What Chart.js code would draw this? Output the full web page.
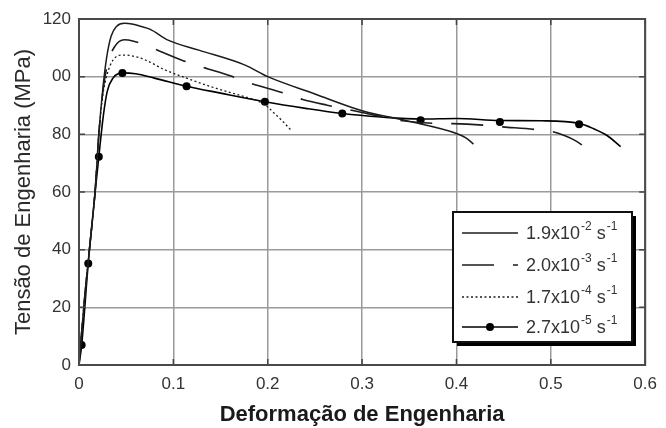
<!DOCTYPE html>
<html>
<head>
<meta charset="utf-8">
<script src="https://cdn.jsdelivr.net/npm/chart.js@4.4.1/dist/chart.umd.min.js"></script>
<style>
  body { margin: 0; background: #fff; }
</style>
</head>
<body>
<canvas id="myChart" width="666" height="428"></canvas>
<script>
// strain / stress, one pair of arrays per strain rate
const strainA = [0, 0.005, 0.011, 0.017, 0.021, 0.025, 0.029, 0.034, 0.040, 0.048, 0.056, 0.065, 0.075, 0.095, 0.127, 0.176, 0.2, 0.25, 0.3, 0.35, 0.4, 0.41, 0.418];
const stressA = [0, 20, 40, 60, 80, 95, 106, 114, 117.5, 118.5, 118.3, 117.5, 116.5, 112.6, 109.2, 104, 100, 94, 88.2, 84.5, 80.3, 78.8, 76.6];

const strainB = [0, 0.005, 0.011, 0.017, 0.021, 0.025, 0.03, 0.038, 0.048, 0.057, 0.077, 0.109, 0.13, 0.161, 0.182, 0.216, 0.237, 0.263, 0.3, 0.343, 0.376, 0.396, 0.428, 0.449, 0.483, 0.502, 0.515, 0.525, 0.535];
const stressB = [0, 20, 40, 60, 80, 94, 104, 110.5, 112.8, 112.4, 110, 105.7, 103.4, 100.2, 97.7, 94.4, 92.1, 90.1, 87.6, 84.7, 83.8, 83.7, 83.2, 82.6, 81.7, 80.9, 79.5, 78, 75.9];

const strainC = [0, 0.005, 0.011, 0.017, 0.021, 0.025, 0.03, 0.036, 0.045, 0.055, 0.071, 0.09, 0.113, 0.14, 0.176, 0.19, 0.2, 0.207, 0.215, 0.224];
const stressC = [0, 20, 40, 60, 80, 93, 101, 105.7, 107.5, 107.3, 105.7, 102.5, 99.6, 96.5, 93, 91.5, 89.5, 87.3, 84.8, 81.7];

const strainD = [0, 0.0028, 0.0098, 0.021, 0.026, 0.03, 0.036, 0.046, 0.06, 0.08, 0.114, 0.15, 0.197, 0.24, 0.279, 0.32, 0.362, 0.40, 0.446, 0.49, 0.53, 0.545, 0.56, 0.574];
const stressD = [0, 6.9, 35.2, 72.2, 87, 95, 99.5, 101.3, 101, 99.5, 96.7, 94.3, 91.3, 89, 87.2, 86, 85.3, 85.5, 84.8, 84.7, 83.8, 82, 79.5, 75.7];

// the filled circles on the slowest curve
const markStrain = [0.0028, 0.0098, 0.021, 0.046, 0.114, 0.197, 0.279, 0.362, 0.446, 0.53];
const markStress = [6.9, 35.2, 72.2, 101.3, 96.7, 91.3, 87.2, 84.9, 84.3, 83.5];

const rateMantissa = ['1.9x10', '2.0x10', '1.7x10', '2.7x10'];
const rateExponent = ['-2', '-3', '-4', '-5'];

const xTickLabels = ['0', '0.1', '0.2', '0.3', '0.4', '0.5', '0.6'];
const yTickLabels = ['0', '20', '40', '60', '80', '00', '120'];

const FONT = "'Liberation Sans', Arial, sans-serif";

function pts(xs, ys) {
  return xs.map((x, i) => ({ x: x, y: ys[i] }));
}

// frame, inward ticks and the boxed legend
const framePlugin = {
  id: 'frame',
  afterDraw(chart) {
    const ctx = chart.ctx;
    const a = chart.chartArea;
    const xs = chart.scales.x, ys = chart.scales.y;
    ctx.save();
    ctx.strokeStyle = '#444';
    ctx.lineWidth = 1.5;
    ctx.beginPath();
    xs.ticks.forEach(t => {
      let px = xs.getPixelForValue(t.value);
      ctx.moveTo(px, a.bottom); ctx.lineTo(px, a.bottom - 6);
      ctx.moveTo(px, a.top); ctx.lineTo(px, a.top + 6);
    });
    ys.ticks.forEach(t => {
      let py = ys.getPixelForValue(t.value);
      ctx.moveTo(a.left, py); ctx.lineTo(a.left + 6, py);
      ctx.moveTo(a.right, py); ctx.lineTo(a.right - 6, py);
    });
    ctx.stroke();
    ctx.lineWidth = 2;
    ctx.strokeStyle = '#4a4a4a';
    ctx.strokeRect(a.left, a.top, a.right - a.left, a.bottom - a.top);

    // legend box with drop shadow
    const bx = 453, by = 212, bw = 179, bh = 130;
    ctx.fillStyle = '#000';
    ctx.fillRect(bx + 4, by + 4, bw, bh);
    ctx.fillStyle = '#fff';
    ctx.fillRect(bx, by, bw, bh);
    ctx.lineWidth = 2;
    ctx.strokeStyle = '#111';
    ctx.strokeRect(bx, by, bw, bh);

    const rows = [233, 265, 297, 327];
    chart.data.datasets.slice(0, 4).forEach((ds, i) => {
      const y = rows[i];
      ctx.strokeStyle = ds.borderColor;
      ctx.lineWidth = ds.borderWidth;
      ctx.setLineDash(ds.borderDash || []);
      ctx.beginPath();
      ctx.moveTo(462, y); ctx.lineTo(518, y);
      ctx.stroke();
      ctx.setLineDash([]);
      if (i === 3) {
        ctx.fillStyle = '#000';
        ctx.beginPath();
        ctx.arc(490, y, 4, 0, Math.PI * 2);
        ctx.fill();
      }
      ctx.fillStyle = '#333';
      ctx.textBaseline = 'middle';
      ctx.textAlign = 'left';
      let x = 526;
      ctx.font = '18px ' + FONT;
      ctx.fillText(rateMantissa[i], x, y + 1);
      x += ctx.measureText(rateMantissa[i]).width + 1;
      ctx.font = '12px ' + FONT;
      ctx.fillText(rateExponent[i], x, y - 6);
      x += ctx.measureText(rateExponent[i]).width;
      ctx.font = '18px ' + FONT;
      ctx.fillText(' s', x, y + 1);
      x += ctx.measureText(' s').width + 1;
      ctx.font = '12px ' + FONT;
      ctx.fillText('-1', x, y - 6);
    });
    ctx.restore();
  }
};

const lineColor = '#1c1c1c';

new Chart(document.getElementById('myChart').getContext('2d'), {
  type: 'scatter',
  data: {
    datasets: [{
      data: pts(strainA, stressA),
      showLine: true, borderColor: lineColor, borderWidth: 1.5, pointRadius: 0, cubicInterpolationMode: 'monotone'
    }, {
      data: pts(strainB, stressB),
      showLine: true, borderColor: lineColor, borderWidth: 1.6, borderDash: [32, 19], borderDashOffset: -10,
      pointRadius: 0, cubicInterpolationMode: 'monotone'
    }, {
      data: pts(strainC, stressC),
      showLine: true, borderColor: lineColor, borderWidth: 1.3, borderDash: [2, 2.5], pointRadius: 0, cubicInterpolationMode: 'monotone'
    }, {
      data: pts(strainD, stressD),
      showLine: true, borderColor: '#000', borderWidth: 1.6, pointRadius: 0, cubicInterpolationMode: 'monotone'
    }, {
      data: pts(markStrain, markStress),
      showLine: false, pointRadius: 4, pointBackgroundColor: '#000', pointBorderColor: '#000', pointBorderWidth: 0
    }]
  },
  options: {
    responsive: false,
    animation: false,
    layout: { padding: { top: 19, right: 14, left: 0, bottom: 0 } },
    plugins: {
      legend: { display: false },
      tooltip: { enabled: false }
    },
    scales: {
      x: {
        type: 'linear',
        min: 0, max: 0.6,
        afterFit: s => { s.height = 63; },
        grid: { color: '#9a9a9a', lineWidth: 1.5, drawTicks: false },
        border: { display: false },
        ticks: {
          stepSize: 0.1, padding: 9, color: '#333',
          font: { family: FONT, size: 17 },
          callback: (v, i) => xTickLabels[i]
        },
        title: {
          display: true,
          text: 'Deformação de Engenharia',
          color: '#1a1a1a',
          font: { family: FONT, size: 22, weight: 'bold' },
          padding: { top: 0, bottom: 0 }
        }
      },
      y: {
        min: 0, max: 120,
        afterFit: s => { s.width = 79; },
        grid: { color: '#9a9a9a', lineWidth: 1.5, drawTicks: false },
        border: { display: false },
        ticks: {
          stepSize: 20, padding: 8, color: '#333',
          font: { family: FONT, size: 17 },
          callback: (v, i) => yTickLabels[i]
        },
        title: {
          display: true,
          text: 'Tensão de Engenharia (MPa)',
          color: '#2a2a2a',
          font: { family: FONT, size: 22 },
          padding: { top: 11, bottom: 0 }
        }
      }
    }
  },
  plugins: [framePlugin]
});
</script>
</body>
</html>
